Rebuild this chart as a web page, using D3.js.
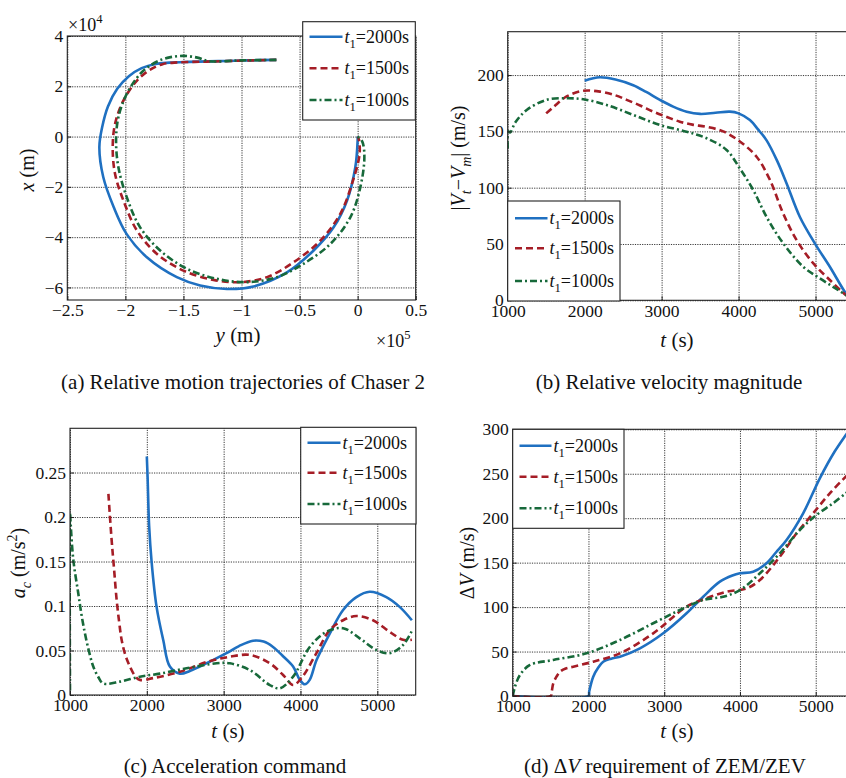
<!DOCTYPE html>
<html>
<head>
<meta charset="utf-8">
<script src="https://d3js.org/d3.v7.min.js"></script>
<style>
  body { margin: 0; background: #fff; }
  svg text { font-family: "Liberation Serif", "Times New Roman", "DejaVu Serif", serif; fill: #111; }
</style>
</head>
<body>
<div class="chart"></div>
<script>
// ---- data ----
// (a) trajectories: [y (x1e5 m), x (x1e4 m)]
let traj2000 = [[-0.70,3.05],[-0.95,3.03],[-1.2,3.0],[-1.45,2.97],[-1.62,2.94],[-1.74,2.89],[-1.86,2.72],[-1.97,2.4],[-2.07,1.9],[-2.15,1.2],[-2.2,0.37],[-2.224,-0.42],[-2.19,-1.62],[-2.10,-2.81],[-1.99,-3.87],[-1.815,-4.80],[-1.557,-5.59],[-1.356,-5.92],[-1.126,-6.06],[-0.897,-5.96],[-0.609,-5.40],[-0.379,-4.53],[-0.207,-3.61],[-0.091,-2.54],[-0.02,-1.22],[0.0,-0.16],[0,0]];
let traj1500 = [[-0.70,3.05],[-1.0,3.02],[-1.3,2.98],[-1.55,2.95],[-1.68,2.88],[-1.79,2.65],[-1.90,2.23],[-2.017,1.43],[-2.089,0.50],[-2.109,-0.42],[-2.089,-1.48],[-2.017,-2.54],[-1.90,-3.74],[-1.73,-4.66],[-1.50,-5.33],[-1.241,-5.70],[-1.011,-5.79],[-0.78,-5.59],[-0.552,-5.0],[-0.322,-4.14],[-0.149,-3.07],[-0.04,-1.75],[0.017,-0.69],[0.01,-0.1],[0,0]];
let traj1000 = [[-0.70,3.05],[-1.0,3.03],[-1.28,3.0],[-1.38,3.14],[-1.5,3.21],[-1.62,3.15],[-1.72,3.0],[-1.80,2.78],[-1.873,2.49],[-1.988,1.70],[-2.06,0.77],[-2.08,-0.16],[-2.06,-1.22],[-1.988,-2.41],[-1.873,-3.61],[-1.70,-4.53],[-1.47,-5.26],[-1.21,-5.66],[-0.953,-5.79],[-0.695,-5.59],[-0.466,-5.06],[-0.235,-4.27],[-0.063,-3.21],[0.023,-2.02],[0.058,-0.82],[0.04,-0.2],[0,0]];

// (b) relative velocity magnitude: [t (s), |Vt-Vm| (m/s)]
let vel2000 = [[2000,195],[2100,197],[2200,198],[2400,196],[2631,191],[2800,185],[2978,178],[3150,172],[3325,167.5],[3500,165.5],[3700,166.5],[3887,167.5],[4000,166],[4147,160],[4250,152],[4364,142],[4500,124],[4623,104],[4797,74],[4991,50.6],[5186,29.8],[5394,6.2],[5450,2]];
let vel1500 = [[1500,166],[1600,172],[1766,181],[1982,186],[2199,185.3],[2400,182],[2546,178],[2720,173],[2891,167.5],[3060,163],[3237,158.6],[3400,156],[3584,154],[3800,150],[4017,141],[4234,127.5],[4407,107],[4580,77],[4753,53.6],[4969,33],[5186,18],[5394,4.7],[5450,2]];
let vel1000 = [[1000,135],[1008,150],[1030,149],[1100,158],[1247,169],[1506,178],[1766,179.4],[1982,178.5],[2286,173.4],[2632,164.6],[2978,155.7],[3325,149.7],[3584,143.9],[3844,133.5],[4017,117],[4190,98],[4364,74],[4580,50.6],[4840,29.8],[5056,19.5],[5250,11],[5394,4.7],[5450,2]];

// (c) acceleration command: [t (s), a_c (m/s^2)]
let acc2000 = [[2000,0.268],[2010,0.245],[2030,0.19],[2062,0.15],[2127,0.099],[2213,0.062],[2300,0.032],[2430,0.024],[2560,0.027],[2690,0.032],[3037,0.047],[3200,0.055],[3383,0.061],[3520,0.060],[3643,0.054],[3780,0.043],[3904,0.032],[3991,0.017],[4056,0.012],[4120,0.017],[4208,0.039],[4381,0.069],[4555,0.0955],[4728,0.110],[4901,0.116],[5118,0.110],[5291,0.099],[5450,0.084]];
let acc1500 = [[1500,0.226],[1542,0.174],[1575,0.14],[1607,0.107],[1640,0.082],[1672,0.062],[1720,0.045],[1780,0.032],[1850,0.021],[1910,0.017],[2083,0.019],[2430,0.026],[2777,0.037],[3081,0.043],[3341,0.045],[3601,0.0356],[3774,0.0225],[3904,0.0112],[4013,0.019],[4208,0.047],[4381,0.073],[4555,0.084],[4728,0.0888],[4944,0.084],[5161,0.071],[5334,0.062],[5450,0.062]];
let acc1000 = [[1000,0.005],[1000,0.205],[1010,0.19],[1043,0.152],[1108,0.114],[1150,0.09],[1195,0.069],[1250,0.048],[1303,0.032],[1370,0.02],[1433,0.013],[1650,0.015],[1910,0.0206],[2170,0.024],[2517,0.030],[2908,0.0356],[3081,0.0356],[3341,0.028],[3601,0.0112],[3731,0.0075],[3904,0.0206],[4121,0.054],[4338,0.071],[4555,0.075],[4771,0.0637],[4988,0.0506],[5161,0.047],[5334,0.056],[5450,0.072]];

// (d) delta-V requirement: [t (s), dV (m/s)]
let dv2000 = [[1000,0],[2000,0],[2010,5],[2063,21.7],[2130,32],[2195,38.6],[2300,42],[2416,44.2],[2680,53.6],[2987,70.5],[3295,93],[3515,111.7],[3735,128.6],[3900,135.5],[3999,138],[4174,139.8],[4351,149.3],[4480,162],[4615,175.5],[4834,205.5],[5054,244.9],[5250,275],[5397,293.6],[5450,300]];
let dv1500 = [[1000,0],[1500,0],[1515,5],[1536,14.3],[1580,22],[1624,27.3],[1700,31],[1800,33],[2063,38.6],[2416,48],[2855,70.5],[3295,100.5],[3559,110],[3823,117.3],[4087,121],[4263,130.5],[4526,156.7],[4747,183],[4966,205.5],[5186,228],[5397,246.7],[5450,251]];
let dv1000 = [[1000,0],[1030,10.5],[1096,23.6],[1228,34.9],[1536,40.5],[1976,48],[2416,63],[2855,81.8],[3207,96.7],[3515,108],[3779,111.7],[4000,119],[4263,138],[4526,160.5],[4790,186.7],[5010,203.6],[5230,216.8],[5397,228],[5450,231]];

// ticks and labels
let trajXTicks = [-2.5, -2, -1.5, -1, -0.5, 0, 0.5];
let trajXLabels = ["\u22122.5", "\u22122", "\u22121.5", "\u22121", "\u22120.5", "0", "0.5"];
let trajYTicks = [-6, -4, -2, 0, 2, 4];
let trajYLabels = ["\u22126", "\u22124", "\u22122", "0", "2", "4"];
let timeTicks = [1000, 2000, 3000, 4000, 5000];
let timeLabels = ["1000", "2000", "3000", "4000", "5000"];
let velTicks = [0, 50, 100, 150, 200];
let velLabels = ["0", "50", "100", "150", "200"];
let accTicks = [0, 0.05, 0.1, 0.15, 0.2, 0.25];
let accLabels = ["0", "0.05", "0.1", "0.15", "0.2", "0.25"];
let dvTicks = [0, 50, 100, 150, 200, 250, 300];
let dvLabels = ["0", "50", "100", "150", "200", "250", "300"];
let seriesNames = ["=2000s", "=1500s", "=1000s"];

// ---- style ----
let colors = ["#1f70c1", "#a51d26", "#17693a"];
let dashes = [null, "7,4", "7,3,2,3"];
let serif = "'Liberation Serif', 'Times New Roman', 'DejaVu Serif', serif";

let svg = d3.select(".chart").append("svg")
    .attr("width", 846)
    .attr("height", 778)
    .attr("font-family", serif);

// text with italic / sub / sup parts
function rich(text, parts, fs) {
    let shift = 0;
    text.attr("font-family", serif);
    parts.forEach(function(p) {
        let target = p.sub ? 0.28 : (p.sup ? -0.42 : 0);
        let ts = text.append("tspan").text(p.t);
        if (target !== shift) ts.attr("dy", ((target - shift) * fs) + "px");
        if (p.sub || p.sup) ts.attr("font-size", (fs * 0.7) + "px");
        if (p.i) ts.attr("font-style", "italic");
        shift = target;
    });
    return text;
}

function drawPanel(p) {
    let x = d3.scaleLinear().domain(p.xDomain).range([p.left, p.right]);
    let y = d3.scaleLinear().domain(p.yDomain).range([p.bottom, p.top]);
    let w = p.right - p.left, h = p.bottom - p.top;
    let g = svg.append("g");

    // dotted grid
    g.append("g")
        .attr("class", "grid")
        .attr("transform", "translate(0," + p.bottom + ")")
        .call(d3.axisBottom(x).tickValues(p.xTicks).tickSize(-h).tickFormat(""));
    g.append("g")
        .attr("class", "grid")
        .attr("transform", "translate(" + p.left + ",0)")
        .call(d3.axisLeft(y).tickValues(p.yTicks).tickSize(-w).tickFormat(""));
    g.selectAll(".grid .domain").remove();
    g.selectAll(".grid line")
        .attr("stroke", "#222")
        .attr("stroke-width", 0.9)
        .attr("stroke-dasharray", "1.2,1.2");

    // curves
    svg.append("clipPath").attr("id", "clip" + p.name)
        .append("rect")
        .attr("x", p.left).attr("y", p.top - 2)
        .attr("width", w).attr("height", h + 3);

    let line = d3.line()
        .x(function(d) { return x(d[0]); })
        .y(function(d) { return y(d[1]); })
        .curve(d3.curveCatmullRom.alpha(0.5));

    p.series.forEach(function(s, i) {
        g.append("path")
            .datum(s)
            .attr("clip-path", "url(#clip" + p.name + ")")
            .attr("fill", "none")
            .attr("stroke", colors[i])
            .attr("stroke-width", 2.6)
            .attr("stroke-dasharray", dashes[i])
            .attr("d", line);
    });

    // frame
    g.append("rect")
        .attr("x", p.left).attr("y", p.top)
        .attr("width", w).attr("height", h)
        .attr("fill", "none")
        .attr("stroke", "#222")
        .attr("stroke-width", 1.1);

    // tick labels (inward ticks)
    let xa = g.append("g")
        .attr("transform", "translate(0," + p.bottom + ")")
        .call(d3.axisBottom(x).tickValues(p.xTicks).tickSize(-4).tickPadding(4)
            .tickFormat(function(d, i) { return p.xLabels[i]; }));
    let ya = g.append("g")
        .attr("transform", "translate(" + p.left + ",0)")
        .call(d3.axisLeft(y).tickValues(p.yTicks).tickSize(-4).tickPadding(4)
            .tickFormat(function(d, i) { return p.yLabels[i]; }));
    [xa, ya].forEach(function(a) {
        a.attr("font-family", serif).attr("font-size", 17.5);
        a.select(".domain").remove();
        a.selectAll("line").attr("stroke", "#222");
        a.selectAll("text").attr("fill", "#111");
    });

    // legend
    let lg = p.legend;
    g.append("rect")
        .attr("x", lg.x0).attr("y", lg.y0)
        .attr("width", lg.x1 - lg.x0).attr("height", lg.y1 - lg.y0)
        .attr("fill", "#fff")
        .attr("stroke", "#222")
        .attr("stroke-width", 1.1);
    lg.rows.forEach(function(ry, i) {
        g.append("line")
            .attr("x1", lg.lx0).attr("x2", lg.lx1)
            .attr("y1", ry).attr("y2", ry)
            .attr("stroke", colors[i])
            .attr("stroke-width", 2.6)
            .attr("stroke-dasharray", dashes[i]);
        let t = g.append("text")
            .attr("x", lg.lx1 + 2)
            .attr("y", ry + 6)
            .attr("font-size", 18);
        rich(t, [{t: "t", i: true}, {t: "1", sub: true}, {t: seriesNames[i]}], 18);
    });

    // axis labels and caption
    let yl = g.append("text")
        .attr("transform", "translate(" + p.yLabelPos[0] + "," + p.yLabelPos[1] + ") rotate(-90)")
        .attr("text-anchor", "middle")
        .attr("font-size", 20);
    rich(yl, p.yLabel, 20);
    let xl = g.append("text")
        .attr("x", p.xLabelPos[0]).attr("y", p.xLabelPos[1])
        .attr("text-anchor", "middle")
        .attr("font-size", 21);
    rich(xl, p.xLabel, 21);
    let cap = g.append("text")
        .attr("x", p.captionPos[0]).attr("y", p.captionPos[1])
        .attr("text-anchor", "middle")
        .attr("font-size", 21);
    rich(cap, p.caption, 21);
}

let tLabel = [{t: "t", i: true}, {t: " (s)"}];

drawPanel({
    name: "a", left: 67.3, right: 415.7, top: 36, bottom: 300,
    xDomain: [-2.5, 0.5], yDomain: [-6.5, 4],
    xTicks: trajXTicks, xLabels: trajXLabels, yTicks: trajYTicks, yLabels: trajYLabels,
    series: [traj2000, traj1500, traj1000],
    legend: {x0: 302.7, y0: 21.7, x1: 415.3, y1: 120, lx0: 309.5, lx1: 342.5, rows: [36.7, 68.3, 100]},
    yLabel: [{t: "x", i: true}, {t: " (m)"}], yLabelPos: [34, 170],
    xLabel: [{t: "y", i: true}, {t: " (m)"}], xLabelPos: [238, 342],
    caption: [{t: "(a) Relative motion trajectories of Chaser 2"}], captionPos: [243, 389]
});
drawPanel({
    name: "b", left: 507.7, right: 854, top: 31.7, bottom: 300.3,
    xDomain: [1000, 5500], yDomain: [0, 238.5],
    xTicks: timeTicks, xLabels: timeLabels, yTicks: velTicks, yLabels: velLabels,
    series: [vel2000, vel1500, vel1000],
    legend: {x0: 507.7, y0: 201, x1: 620, y1: 301, lx0: 515, lx1: 547.5, rows: [218.3, 248.3, 281]},
    yLabel: [{t: "|"}, {t: "V", i: true}, {t: "t", i: true, sub: true}, {t: "\u2212"}, {t: "V", i: true}, {t: "m", i: true, sub: true}, {t: "| (m/s)"}],
    yLabelPos: [465, 158],
    xLabel: tLabel, xLabelPos: [677, 347],
    caption: [{t: "(b) Relative velocity magnitude"}], captionPos: [669, 389]
});
drawPanel({
    name: "c", left: 70, right: 415.7, top: 428.3, bottom: 695,
    xDomain: [1000, 5500], yDomain: [0, 0.2997],
    xTicks: timeTicks, xLabels: timeLabels, yTicks: accTicks, yLabels: accLabels,
    series: [acc2000, acc1500, acc1000],
    legend: {x0: 300.7, y0: 427.3, x1: 416, y1: 524, lx0: 307.5, lx1: 340.5, rows: [442.7, 472.7, 504]},
    yLabel: [{t: "a", i: true}, {t: "c", i: true, sub: true}, {t: " (m/s"}, {t: "2", sup: true}, {t: ")"}],
    yLabelPos: [25, 563],
    xLabel: tLabel, xLabelPos: [228, 738],
    caption: [{t: "(c) Acceleration command"}], captionPos: [235, 773]
});
drawPanel({
    name: "d", left: 512.7, right: 853.6, top: 429.3, bottom: 696,
    xDomain: [1000, 5500], yDomain: [0, 300],
    xTicks: timeTicks, xLabels: timeLabels, yTicks: dvTicks, yLabels: dvLabels,
    series: [dv2000, dv1500, dv1000],
    legend: {x0: 512.7, y0: 429.3, x1: 624, y1: 528.3, lx0: 519.5, lx1: 551.5, rows: [445.7, 476.7, 508.3]},
    yLabel: [{t: "\u0394"}, {t: "V", i: true}, {t: " (m/s)"}], yLabelPos: [474, 563],
    xLabel: tLabel, xLabelPos: [677, 738],
    caption: [{t: "(d)  \u0394"}, {t: "V", i: true}, {t: " requirement of ZEM/ZEV"}], captionPos: [665, 773]
});

// exponent labels of panel (a)
rich(svg.append("text").attr("x", 68).attr("y", 31).attr("font-size", 18),
    [{t: "\u00d710"}, {t: "4", sup: true}], 18);
rich(svg.append("text").attr("x", 376).attr("y", 347).attr("font-size", 18),
    [{t: "\u00d710"}, {t: "5", sup: true}], 18);
</script>
</body>
</html>
